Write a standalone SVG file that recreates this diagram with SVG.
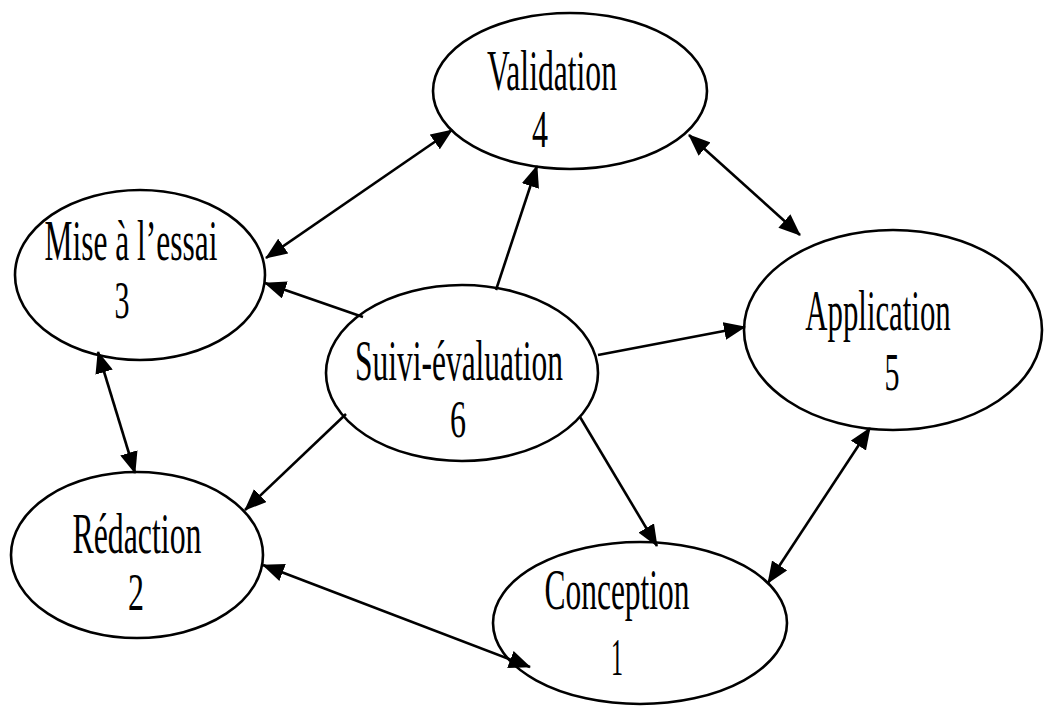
<svg xmlns="http://www.w3.org/2000/svg" width="1049" height="709" viewBox="0 0 1049 709">
<defs>
<style>
.node ellipse{fill:#fff;stroke:#000;stroke-width:2.6}
.node text{font-family:"Liberation Serif","Times New Roman",serif;font-size:56px;fill:#000;text-anchor:middle}
.node text.num{font-size:52px}
.edges line{stroke:#000;stroke-width:2.6;fill:none}
.uni{marker-end:url(#ah)}
.bi{marker-end:url(#ah);marker-start:url(#ah)}
</style>
<marker id="ah" viewBox="0 0 22 18" refX="21" refY="9" markerWidth="22" markerHeight="18" markerUnits="userSpaceOnUse" orient="auto-start-reverse">
<path d="M0,0 L22,9 L0,18 z" fill="#000"/>
</marker>
</defs>
<rect width="1049" height="709" fill="#fff"/>
<g id="n4" class="node">
<ellipse cx="570" cy="91" rx="137" ry="78"/>
<text x="552" y="90" textLength="130" lengthAdjust="spacingAndGlyphs">Validation</text>
<text class="num" x="540" y="147" textLength="16" lengthAdjust="spacingAndGlyphs">4</text>
</g>
<g id="n3" class="node">
<ellipse cx="140" cy="275" rx="125" ry="85"/>
<text x="131" y="260" textLength="173" lengthAdjust="spacingAndGlyphs">Mise à l’essai</text>
<text class="num" x="122" y="318" textLength="15" lengthAdjust="spacingAndGlyphs">3</text>
</g>
<g id="n5" class="node">
<ellipse cx="893" cy="330" rx="149" ry="100"/>
<text transform="translate(878 330) scale(0.55 1)" x="0" y="0">Application</text>
<text class="num" x="892" y="390" textLength="15" lengthAdjust="spacingAndGlyphs">5</text>
</g>
<g id="n6" class="node">
<ellipse cx="462" cy="373" rx="136" ry="88"/>
<text x="459" y="380" textLength="208" lengthAdjust="spacingAndGlyphs">Suivi-évaluation</text>
<text class="num" x="458" y="437" textLength="16" lengthAdjust="spacingAndGlyphs">6</text>
</g>
<g id="n2" class="node">
<ellipse cx="137" cy="555" rx="126" ry="83"/>
<text x="137" y="553" textLength="129" lengthAdjust="spacingAndGlyphs">Rédaction</text>
<text class="num" x="136" y="610" textLength="16" lengthAdjust="spacingAndGlyphs">2</text>
</g>
<g id="n1" class="node">
<ellipse cx="640" cy="623" rx="147" ry="81"/>
<text x="617" y="609" textLength="145" lengthAdjust="spacingAndGlyphs">Conception</text>
<text class="num" x="617" y="675" textLength="12" lengthAdjust="spacingAndGlyphs">1</text>
</g>
<g id="edges" class="edges">
<line class="bi" x1="452" y1="130" x2="266" y2="258"/>
<line class="uni" x1="363" y1="317" x2="265" y2="283"/>
<line class="uni" x1="496" y1="290" x2="537" y2="166"/>
<line class="bi" x1="689" y1="135" x2="800" y2="235"/>
<line class="uni" x1="598" y1="355" x2="745" y2="327"/>
<line class="bi" x1="870" y1="428" x2="768" y2="583"/>
<line class="uni" x1="580" y1="417" x2="657" y2="546"/>
<line class="uni" x1="346" y1="414" x2="245" y2="510"/>
<line class="bi" x1="98" y1="352" x2="135" y2="473"/>
<line class="bi" x1="263" y1="565" x2="530" y2="667"/>
</g>
</svg>
